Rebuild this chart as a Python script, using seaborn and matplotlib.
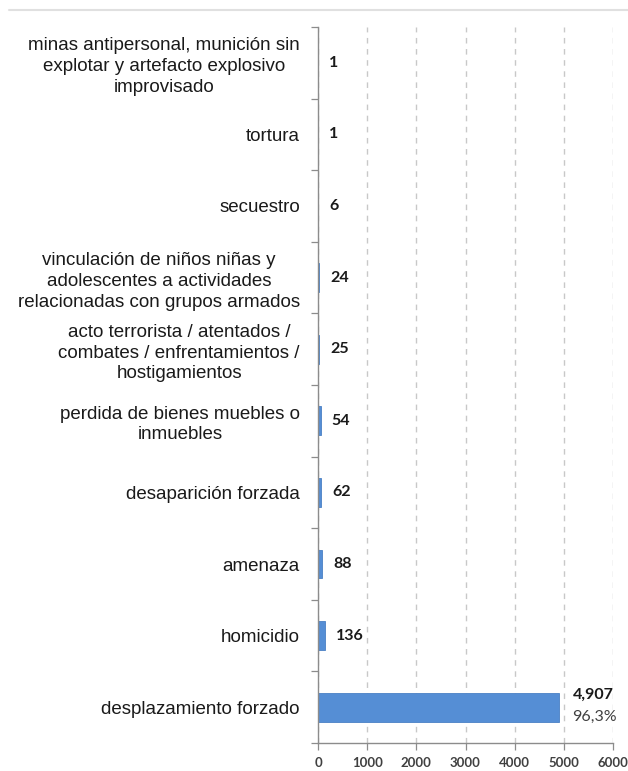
import matplotlib
matplotlib.use("Agg")
import matplotlib.pyplot as plt
import matplotlib.lines as mlines
import numpy as np
import pandas as pd
import seaborn as sns

categorias = [
    "minas antipersonal, munición sin\nexplotar y artefacto explosivo\nimprovisado",
    "tortura",
    "secuestro",
    "vinculación de niños niñas y\nadolescentes a actividades\nrelacionadas con grupos armados",
    "acto terrorista / atentados /\ncombates / enfrentamientos /\nhostigamientos",
    "perdida de bienes muebles o\ninmuebles",
    "desaparición forzada",
    "amenaza",
    "homicidio",
    "desplazamiento forzado",
]
victimas = [1, 1, 6, 24, 25, 54, 62, 88, 136, 4907]
etiquetas = ["1", "1", "6", "24", "25", "54", "62", "88", "136", "4,907"]
porcentaje_mayor = "96,3%"
ticks_x = [0, 1000, 2000, 3000, 4000, 5000, 6000]

df = pd.DataFrame({"hecho": categorias, "victimas": victimas})

sns.set_theme(style="white")
plt.rcParams["font.family"] = ["Liberation Sans", "DejaVu Sans"]

fig = plt.figure(figsize=(6.28, 7.71), dpi=100)
ax = fig.add_axes([0.5064, 0.0363, 0.4697, 0.9287])

sns.barplot(data=df, x="victimas", y="hecho", orient="h", color="#558ed5",
            width=0.4, ax=ax, edgecolor="#4a80c4", linewidth=0.6, saturation=1)

ax.set_xlim(0, 6000)
ax.set_ylim(len(categorias) - 0.5, -0.5)
ax.set_xticks(ticks_x)
ax.set_xticklabels([str(t) for t in ticks_x], fontsize=9.5, color="#404040",
                   fontweight="bold", family=["Lato", "DejaVu Sans"])
ax.set_xlabel("")
ax.set_ylabel("")

ax.set_yticks(range(len(categorias)))
ax.set_yticklabels(categorias, fontsize=13.5, color="#1a1a1a",
                   multialignment="center", linespacing=1.28)
ax.tick_params(axis="y", length=0, pad=13)
ax.set_yticks(np.arange(-0.5, len(categorias), 1), minor=True)
ax.tick_params(axis="y", which="minor", length=5, color="#8c8c8c", width=0.9,
               direction="out", left=True)
ax.tick_params(axis="x", length=5, color="#8c8c8c", width=0.9,
               direction="out", bottom=True, pad=5)

ax.xaxis.grid(True, linestyle=(0, (4, 4)), color="#c8c8c8", linewidth=1.0)
ax.yaxis.grid(False)
ax.set_axisbelow(True)

for s in ["top", "right"]:
    ax.spines[s].set_visible(False)
for s in ["left", "bottom"]:
    ax.spines[s].set_color("#8c8c8c")
    ax.spines[s].set_linewidth(1.0)

for i, (v, lab) in enumerate(zip(victimas, etiquetas)):
    if i == len(victimas) - 1:
        ax.annotate(lab, (v, i), xytext=(10, 9), textcoords="offset points",
                    ha="left", va="center", fontsize=11.5, fontweight="bold",
                    color="#1a1a1a", family=["Lato", "DejaVu Sans"])
        ax.annotate(porcentaje_mayor, (v, i), xytext=(9, -7),
                    textcoords="offset points", ha="left", va="center",
                    fontsize=11.5, color="#404040",
                    family=["Lato", "DejaVu Sans"])
    else:
        ax.annotate(lab, (v, i), xytext=(8, 0), textcoords="offset points",
                    ha="left", va="center", fontsize=11.5, fontweight="bold",
                    color="#1a1a1a", family=["Lato", "DejaVu Sans"])

# thin rule along the top of the page
fig.add_artist(mlines.Line2D([0.015, 1.0], [0.987, 0.987], color="#e0e0e0",
                             linewidth=1.5, transform=fig.transFigure))

fig.savefig("out.png", dpi=100)
